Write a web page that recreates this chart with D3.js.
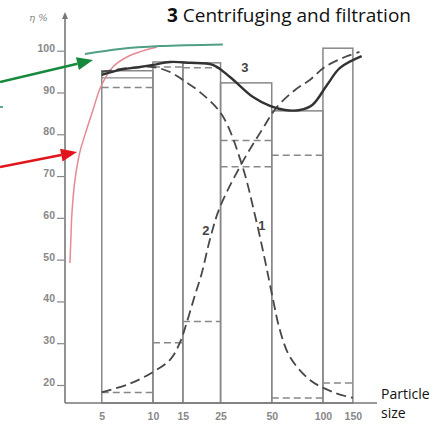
<!DOCTYPE html>
<html><head><meta charset="utf-8">
<script src="https://cdn.jsdelivr.net/npm/d3@7"></script>
<style>body{margin:0;background:#fff} svg{display:block}</style>
</head><body>
<svg id="c" width="433" height="424"></svg>
<script>
// ---- data ----
const xTicks = [5, 10, 15, 25, 50, 100, 150];
const yTicks = [20, 30, 40, 50, 60, 70, 80, 90, 100];
const binEdges = [5, 10, 15, 25, 50, 100, 150];
const binTops = [95.2, 97.3, 97.1, 92.3, 85.6, 100.6];
const binInnerSolid = [93.5, null, null, null, null, null];
const binStepUpper = [91.2, 96.1, 95.9, 78.5, 75.0, null];
const binStepLower = [18.2, 30.1, 35.2, 72.2, 16.9, 20.5];

const curve1X = [5, 7.3, 10, 12.6, 15, 18.9, 25.5, 33.4, 39.8, 45.6, 50.9, 55.8, 64, 83.9, 114.5, 150];
const curve1Y = [94.9, 95.9, 96.1, 94.9, 93.0, 90.1, 84.6, 72.7, 60.7, 49.9, 40.4, 33.2, 26.7, 21.2, 18.3, 16.9];
const curve2X = [5, 7.3, 10, 12.6, 14.4, 15.8, 17.7, 19.4, 21.6, 24.8, 33.4, 43.7, 53.6, 68.5, 83.7, 102.7, 134.6, 164];
const curve2Y = [18.3, 20.3, 23.1, 26.0, 30.1, 34.9, 41.6, 46.8, 54.7, 62.6, 73.1, 81.0, 86.5, 90.6, 93.0, 96.1, 98.5, 99.7];
const curve3X = [5, 6.4, 8.4, 10, 12.6, 16.5, 22.5, 28.4, 38.8, 48.8, 59.8, 73.2, 86.6, 105.7, 126, 169];
const curve3Y = [94.2, 95.4, 96.1, 96.6, 97.3, 97.1, 96.6, 93.7, 88.9, 86.8, 85.8, 85.8, 87.0, 91.8, 95.9, 98.7];
const redX = [3.25, 3.29, 3.34, 3.48, 3.72, 3.98, 4.44, 4.93, 5.81, 7.03, 8.62, 10.55];
const redY = [49.2, 54.7, 61.2, 69.1, 75.8, 79.8, 85.8, 91.3, 96.1, 98.5, 99.9, 100.9];
const greenX = [3.98, 6.4, 11, 25.8];
const greenY = [99.2, 100.4, 101.1, 101.5];
const curveLabels = [
  {t: "1", x: 43.7, y: 58.3},
  {t: "2", x: 20.5, y: 57.1},
  {t: "3", x: 34.8, y: 95.9}
];

// ---- scales ----
const svg = d3.select("#c");
const x = d3.scaleLog().domain([3.04, 208]).range([65, 377]);
const y = d3.scaleLinear().domain([20, 100]).range([385, 50.7]);
const yBottom = 403, yTop = 12;

const zip = (a, b) => a.map((v, i) => [v, b[i]]);
const line = d3.line().x(d => x(d[0])).y(d => y(d[1])).curve(d3.curveCatmullRom.alpha(0.5));

// ---- bars ----
const gBars = svg.append("g");
const bins = binTops.map((t, i) => ({x0: binEdges[i], x1: binEdges[i + 1], top: t,
  inner: binInnerSolid[i], up: binStepUpper[i], low: binStepLower[i]}));
gBars.selectAll("rect").data(bins).join("rect")
  .attr("x", d => x(d.x0)).attr("width", d => x(d.x1) - x(d.x0))
  .attr("y", d => y(d.top)).attr("height", d => yBottom - y(d.top))
  .attr("fill", "none").attr("stroke", "#888").attr("stroke-width", 1.5);
gBars.selectAll("line.inner").data(bins.filter(d => d.inner != null)).join("line")
  .attr("class", "inner")
  .attr("x1", d => x(d.x0)).attr("x2", d => x(d.x1))
  .attr("y1", d => y(d.inner)).attr("y2", d => y(d.inner))
  .attr("stroke", "#888").attr("stroke-width", 1.3);
const stepLines = [];
bins.forEach(d => { if (d.up != null) stepLines.push({x0: d.x0, x1: d.x1, v: d.up});
                    if (d.low != null) stepLines.push({x0: d.x0, x1: d.x1, v: d.low}); });
gBars.selectAll("line.step").data(stepLines).join("line")
  .attr("class", "step")
  .attr("x1", d => x(d.x0)).attr("x2", d => x(d.x1))
  .attr("y1", d => y(d.v)).attr("y2", d => y(d.v))
  .attr("stroke", "#888").attr("stroke-width", 1.5).attr("stroke-dasharray", "7,4");

// ---- curves ----
svg.append("path").attr("d", line(zip(redX, redY)))
  .attr("fill", "none").attr("stroke", "#e58a93").attr("stroke-width", 1.5);
svg.append("path").attr("d", line(zip(greenX, greenY)))
  .attr("fill", "none").attr("stroke", "#4f9f86").attr("stroke-width", 2);
svg.append("path").attr("d", line(zip(curve1X, curve1Y)))
  .attr("fill", "none").attr("stroke", "#484848").attr("stroke-width", 1.8).attr("stroke-dasharray", "10,5");
svg.append("path").attr("d", line(zip(curve2X, curve2Y)))
  .attr("fill", "none").attr("stroke", "#484848").attr("stroke-width", 1.8).attr("stroke-dasharray", "10,5");
svg.append("path").attr("d", line(zip(curve3X, curve3Y)))
  .attr("fill", "none").attr("stroke", "#333").attr("stroke-width", 2.4);

svg.selectAll("text.cl").data(curveLabels).join("text").attr("class", "cl")
  .attr("x", d => x(d.x)).attr("y", d => y(d.y)).attr("dy", "0.35em")
  .attr("text-anchor", "middle").attr("font-family", "Liberation Sans, Arial, sans-serif")
  .attr("font-weight", "bold").attr("font-size", 13).attr("fill", "#444").text(d => d.t);

// ---- axes ----
const axisColor = "#777";
svg.append("line").attr("x1", 65).attr("x2", 65).attr("y1", yBottom).attr("y2", yTop + 4)
  .attr("stroke", axisColor).attr("stroke-width", 1.6);
svg.append("path").attr("d", `M65,${yTop} L62,${yTop + 7} L68,${yTop + 7} Z`).attr("fill", axisColor);
svg.append("line").attr("x1", 65).attr("x2", 377).attr("y1", yBottom).attr("y2", yBottom)
  .attr("stroke", axisColor).attr("stroke-width", 1.6);

const yAxis = svg.append("g").attr("transform", "translate(64,0)")
  .call(d3.axisLeft(y).tickValues(yTicks).tickSize(7).tickPadding(2).tickFormat(d3.format("d")));
yAxis.select(".domain").remove();
yAxis.selectAll("line").attr("stroke", "#888").attr("stroke-width", 1.2);
yAxis.selectAll("text").attr("dy", "0.05em").attr("font-family", "Liberation Sans, Arial, sans-serif")
  .attr("font-size", 10.5).attr("font-weight", "bold").attr("fill", "#888");

const xAxis = svg.append("g").attr("transform", `translate(0,${yBottom})`)
  .call(d3.axisBottom(x).tickValues(xTicks).tickSize(0).tickPadding(10).tickFormat(d3.format("d")));
xAxis.select(".domain").remove();
xAxis.selectAll("text").attr("font-family", "Liberation Sans, Arial, sans-serif")
  .attr("font-size", 10.5).attr("font-weight", "bold").attr("fill", "#888");

svg.append("text").attr("x", 29).attr("y", 21).attr("font-family", "DejaVu Serif, serif")
  .attr("font-size", 10).attr("fill", "#888").attr("font-style", "italic").text("η %");

// ---- arrows (annotation) ----
function arrow(x0, y0, x1, y1, color) {
  const a = Math.atan2(y1 - y0, x1 - x0), L = 16, W = 6.5;
  const bx = x1 - L * Math.cos(a), by = y1 - L * Math.sin(a);
  svg.append("line").attr("x1", x0).attr("y1", y0).attr("x2", bx).attr("y2", by)
    .attr("stroke", color).attr("stroke-width", 2.6);
  svg.append("path").attr("d", `M${x1},${y1} L${bx - W * Math.sin(a)},${by + W * Math.cos(a)} L${bx + W * Math.sin(a)},${by - W * Math.cos(a)} Z`)
    .attr("fill", color);
}
arrow(0, 82, 93, 60, "#158a3c");
arrow(0, 167, 77, 152, "#e2141c");
svg.append("line").attr("x1", 0).attr("x2", 3).attr("y1", 107).attr("y2", 107)
  .attr("stroke", "#2a8a6a").attr("stroke-width", 1.5);

// ---- titles ----
const title = svg.append("text").attr("x", 167).attr("y", 22)
  .attr("font-family", "Open Sans, sans-serif").attr("font-size", 19).attr("fill", "#111");
title.append("tspan").attr("font-weight", "bold").text("3");
title.append("tspan").text(" Centrifuging and filtration");

const xl = svg.append("text").attr("font-family", "Open Sans, sans-serif").attr("font-size", 14).attr("fill", "#111");
xl.append("tspan").attr("x", 381).attr("y", 399).text("Particle");
xl.append("tspan").attr("x", 381).attr("y", 418).text("size");
</script>
</body></html>
